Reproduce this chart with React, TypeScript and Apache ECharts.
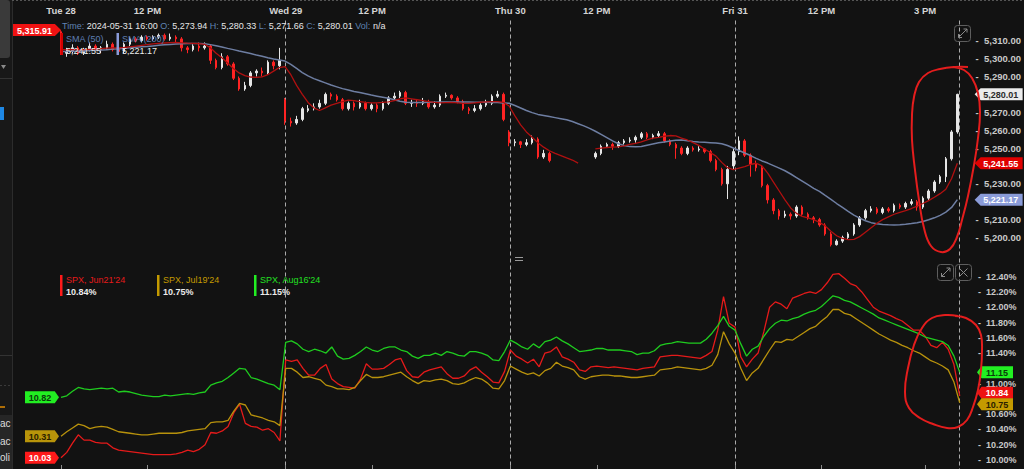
import React, { useEffect, useRef } from 'react';
import * as echarts from 'echarts';

const FONT = '"Liberation Sans", Arial, sans-serif';

// ---------- time axis ----------
const DAYS = ['05-28', '05-29', '05-30', '05-31'];
const SLOTS_PER_DAY = 39; // 10-minute slots 09:30 .. 15:50
const CLOSE_SLOT = '05-31 16:00';
const PAD_SLOTS = ['pad-1', 'pad-2', 'pad-3'];

function buildCategories(): string[] {
  const out: string[] = [];
  DAYS.forEach((d) => {
    for (let k = 0; k < SLOTS_PER_DAY; k++) {
      const m = 9 * 60 + 30 + k * 10;
      out.push(`${d} ${String(Math.floor(m / 60)).padStart(2, '0')}:${String(m % 60).padStart(2, '0')}`);
    }
  });
  out.push(CLOSE_SLOT, ...PAD_SLOTS);
  return out;
}
const CATEGORIES = buildCategories();

const TICK_SLOTS = ['05-28 09:30', '05-28 12:00', '05-29 09:30', '05-29 12:00', '05-30 09:30', '05-30 12:00', '05-31 09:30', '05-31 12:00', '05-31 15:00'];
const TICK_LABELS = ['Tue 28', '12 PM', 'Wed 29', '12 PM', 'Thu 30', '12 PM', 'Fri 31', '12 PM', '3 PM'];
const SESSION_LINES = ['05-29 09:30', '05-30 09:30', '05-31 09:30', '05-31 16:00'];

// ---------- SPX candles [open, close, low, high] ----------
const CANDLES: (number[] | null)[] = [
  [5315, 5303, 5302, 5315.91], [5303, 5304, 5301, 5306], [5304, 5306, 5303, 5308], [5306, 5303, 5302, 5307], [5303, 5305, 5302, 5306], [5305, 5307, 5304, 5309],
  [5307, 5305, 5304, 5308], [5305, 5306, 5303, 5307], [5306, 5308, 5305, 5310], [5308, 5305, 5304, 5309], [5305, 5304, 5302, 5306], [5304, 5308, 5303, 5309],
  [5308, 5311, 5307, 5312], [5311, 5310, 5309, 5312], [5310, 5312, 5309, 5313], [5312, 5311, 5310, 5313], [5311, 5312, 5310, 5313], [5312, 5313, 5311, 5314],
  [5313, 5311, 5310, 5314], [5311, 5312, 5310, 5314], [5312, 5311, 5309, 5313], [5311, 5306, 5304, 5312], [5306, 5305, 5303, 5307], [5305, 5307, 5304, 5308],
  [5307, 5306, 5304, 5309], [5306, 5307, 5305, 5309], [5307, 5299, 5297, 5308], [5299, 5295, 5294, 5300], [5295, 5301, 5294, 5303], [5301, 5297, 5296, 5302],
  [5297, 5289, 5288, 5298], [5289, 5283, 5282, 5290], [5283, 5285, 5282, 5287], [5285, 5292, 5284, 5293], [5292, 5293, 5290, 5294], [5293, 5292, 5290, 5295],
  [5292, 5298, 5291, 5299], [5298, 5296, 5294, 5299], [5296, 5299, 5294, 5306],
  [5277, 5265, 5263, 5278], [5265, 5264, 5262, 5267], [5264, 5266, 5263, 5268], [5266, 5272, 5265, 5273], [5271, 5272, 5270, 5274], [5272, 5273, 5271, 5275],
  [5273, 5275, 5272, 5277], [5275, 5280, 5274, 5281], [5280, 5279, 5277, 5281], [5279, 5277, 5276, 5280], [5277, 5272, 5271, 5278], [5272, 5275, 5271, 5276],
  [5275, 5273, 5271, 5276], [5273, 5275, 5272, 5277], [5275, 5272, 5271, 5276], [5272, 5274, 5271, 5275], [5274, 5272, 5270, 5275], [5272, 5275, 5271, 5276],
  [5275, 5278, 5274, 5279], [5278, 5279, 5277, 5281], [5279, 5281, 5278, 5282], [5281, 5275, 5274, 5282], [5275, 5275.5, 5273, 5277], [5275.5, 5275, 5273, 5277],
  [5275, 5276, 5274, 5278], [5276, 5273, 5272, 5277], [5273, 5274, 5272, 5276], [5274, 5279, 5273, 5280], [5279, 5279.5, 5278, 5281], [5279.5, 5278, 5277, 5280],
  [5278, 5276, 5275, 5279], [5276, 5272, 5271, 5277], [5272, 5271, 5269, 5273], [5271, 5272, 5270, 5274], [5272, 5274, 5271, 5275], [5274, 5275, 5273, 5277],
  [5275, 5279, 5274, 5280], [5279, 5280, 5278, 5282], [5280, 5266, 5265, 5281],
  [5259, 5253, 5251, 5260], [5253, 5253.5, 5251, 5255], [5253.5, 5252, 5250, 5254], [5252, 5253, 5251, 5255], [5253, 5255, 5252, 5257], [5255, 5245, 5244, 5256],
  [5245, 5247, 5244, 5249], [5247, 5243, 5242, 5248], null, null, null, null, null, null, null,
  [5245, 5247, 5244, 5248], [5247, 5251, 5246, 5252], [5251, 5252, 5250, 5253], [5252, 5251, 5249, 5253], [5251, 5253, 5250, 5254], [5253, 5254, 5252, 5255],
  [5254, 5254.5, 5253, 5256], [5254.5, 5256, 5253, 5257], [5256, 5258, 5255, 5259], [5258, 5256, 5255, 5259], [5256, 5257, 5255, 5258], [5257, 5258, 5256, 5259.5],
  [5258, 5254, 5253, 5259], [5254, 5252, 5251, 5255], [5252, 5250, 5244, 5253], [5250, 5247, 5246, 5251], [5247, 5250, 5246, 5251], [5250, 5249, 5248, 5251],
  [5249, 5249.5, 5248, 5251], [5249.5, 5248, 5247, 5250], [5248, 5243, 5242, 5249], [5243, 5238, 5237, 5244], [5238, 5230, 5229, 5239], [5230, 5238, 5221.5, 5240],
  [5240, 5248, 5238, 5250], [5248, 5254, 5246, 5256.5], [5254, 5246, 5245, 5255], [5246, 5241, 5234, 5247], [5241, 5239, 5237, 5243], [5239, 5229, 5228, 5240],
  [5229, 5221, 5219, 5230], [5221, 5215, 5213, 5222], [5215, 5212, 5210, 5216], [5212, 5213, 5211, 5215], [5213, 5212, 5210, 5214], [5212, 5217, 5211, 5218],
  [5217, 5213, 5212, 5218], [5213, 5211, 5210, 5214], [5211, 5210, 5208, 5212], [5210, 5207, 5206, 5211], [5207, 5202, 5201, 5208], [5202, 5196, 5195, 5203],
  [5196, 5198, 5195.5, 5199], [5198, 5200, 5197, 5201], [5200, 5202, 5199, 5203], [5202, 5207, 5201, 5208], [5207, 5211, 5206, 5212], [5211, 5215, 5210, 5216],
  [5215, 5216, 5214, 5217.5], [5216, 5214, 5213, 5217], [5214, 5216, 5213, 5217], [5216, 5215, 5214, 5217], [5215, 5218, 5214, 5219], [5218, 5217, 5216, 5219],
  [5217, 5219, 5216, 5220], [5219, 5220, 5218, 5221.5], [5220, 5217, 5215, 5221], [5217, 5222, 5216, 5223], [5222, 5226, 5221, 5227], [5226, 5231, 5225, 5232],
  [5231, 5234, 5230, 5235], [5234, 5244, 5231, 5245], [5244, 5259, 5243, 5260], [5259, 5280.01, 5258, 5280.33],
];

const SMA50: (number | null)[] = [
  5305, 5305, 5305, 5305, 5305, 5305.2, 5305.4, 5305.6, 5305.8, 5306,
  5306, 5306.2, 5306.6, 5307, 5307.4, 5307.8, 5308.2, 5308.5, 5308.7, 5308.9,
  5309, 5308.8, 5308.6, 5308.5, 5308.4, 5308, 5306, 5303, 5300.5, 5297.5,
  5294.5, 5292, 5290.5, 5289.7, 5289.5, 5289.8, 5291, 5293, 5295, 5295.5,
  5291, 5285, 5280, 5275.5, 5272.5, 5271, 5272.5, 5274, 5275, 5276,
  5276.8, 5276.5, 5276, 5275.5, 5275.2, 5275.2, 5275.5, 5275.8, 5276.5, 5277.5,
  5278, 5277.5, 5277, 5276.5, 5276, 5275.5, 5275.3, 5275.4, 5275.5, 5275.3,
  5275, 5275, 5275.3, 5275.6, 5275.8, 5276, 5276, 5275.5, 5273.5, 5268,
  5263, 5259, 5256, 5253, 5250.5, 5248.5, 5247, 5245.8, 5244.5, 5243.3,
  5241.6, null, null, 5249.5, 5250, 5250.3, 5250.5, 5250.6, 5251.2, 5252,
  5252.6, 5253.5, 5254.5, 5255.5, 5256, 5256.6, 5257, 5256.8, 5255.5, 5254.5,
  5253, 5251.5, 5249.5, 5247.5, 5245.5, 5242, 5239, 5238, 5238.8, 5239.6,
  5240.8, 5241.5, 5240, 5236, 5231, 5226, 5221, 5216.5, 5213.5, 5211.8,
  5211, 5210, 5208.5, 5206.5, 5203.5, 5201, 5199.5, 5198.8, 5199, 5200.5,
  5203, 5205.5, 5208, 5210, 5211.5, 5213, 5214, 5215, 5216.2, 5217.5,
  5219, 5220.6, 5222.5, 5224.5, 5227, 5233, 5241.55,
];

const SMA200: number[] = [
  5304, 5304, 5304.1, 5304.2, 5304.3, 5304.5, 5304.7, 5304.8, 5305, 5305.3,
  5305.5, 5305.8, 5306.1, 5306.4, 5306.6, 5306.8, 5307.1, 5307.4, 5307.7, 5307.9,
  5308.1, 5308.3, 5308.4, 5308.5, 5308.5, 5308.3, 5307.8, 5307.2, 5306.5, 5305.7,
  5305, 5304.2, 5303.5, 5302.8, 5302, 5301.3, 5300.5, 5299.8, 5299.2, 5298.6,
  5296.8, 5294.5, 5292.2, 5290.3, 5288.8, 5287.6, 5286.4, 5285.2, 5284.2, 5283.2,
  5282.4, 5281.6, 5281, 5280.3, 5279.6, 5279, 5278.4, 5277.8, 5277, 5276.2,
  5275.6, 5275.4, 5275.4, 5275.5, 5275.6, 5275.6, 5275.7, 5275.7, 5275.7, 5275.7,
  5275.7, 5275.7, 5275.6, 5275.6, 5275.6, 5275.5, 5275.4, 5275.2, 5275, 5273.8,
  5272.4, 5271, 5269.8, 5268.8, 5268.2, 5267.6, 5267, 5266.4, 5265.8, 5264.8,
  5263.6, 5262.4, 5261, 5259.4, 5257.6, 5255.8, 5254, 5252.4, 5251.4, 5250.8,
  5250.7, 5250.9, 5251.6, 5252.3, 5252.9, 5253.4, 5253.9, 5254.4, 5254.5, 5254.1,
  5253.7, 5253.4, 5253.2, 5253, 5252.8, 5252.4, 5251.4, 5250, 5248.6, 5247.2,
  5245.8, 5244.2, 5242.8, 5241.6, 5240.2, 5238.8, 5237.3, 5235.5, 5233.5, 5231.5,
  5229.5, 5227.5, 5225.8, 5223.5, 5221.3, 5219, 5216.8, 5214.6, 5212.5, 5210.8,
  5209.4, 5208.3, 5207.7, 5207.3, 5207.1, 5207, 5207.1, 5207.4, 5207.8, 5208.3,
  5209, 5209.9, 5211, 5212.4, 5214.2, 5216.8, 5221.17,
];

// ---------- implied volatility (%) ----------
const IV_JUN21: number[] = [
  10.03, 10.10, 10.22, 10.33, 10.26, 10.26, 10.23, 10.22, 10.22, 10.16,
  10.13, 10.12, 10.11, 10.10, 10.09, 10.08, 10.07, 10.07, 10.07, 10.07,
  10.08, 10.10, 10.13, 10.11, 10.14, 10.20, 10.36, 10.35, 10.38, 10.44,
  10.62, 10.73, 10.48, 10.44, 10.43, 10.39, 10.41, 10.36, 10.25, 11.31,
  11.29, 11.31, 11.20, 11.11, 11.11, 11.20, 11.25, 11.06, 11.00, 10.96,
  10.95, 10.94, 11.06, 11.26, 11.19, 11.19, 11.20, 11.25, 11.31, 11.33,
  11.17, 11.09, 11.08, 11.15, 11.18, 11.20, 11.22, 11.13, 11.07, 11.07,
  11.10, 11.18, 11.22, 11.15, 11.09, 11.02, 11.01, 11.16, 11.44, 11.36,
  11.32, 11.27, 11.32, 11.22, 11.40, 11.42, 11.48, 11.35, 11.32, 11.28,
  11.18, 11.16, 11.22, 11.23, 11.22, 11.21, 11.22, 11.21, 11.20, 11.19,
  11.18, 11.20, 11.21, 11.22, 11.35, 11.36, 11.37, 11.37, 11.36, 11.35,
  11.34, 11.33, 11.37, 11.42, 11.70, 12.14, 11.79, 11.74, 11.35, 11.22,
  11.32, 11.40, 11.68, 12.00, 12.07, 12.04, 11.98, 12.12, 12.15, 12.18,
  12.20, 12.18, 12.23, 12.32, 12.43, 12.44, 12.38, 12.31, 12.28, 12.20,
  12.10, 12.00, 11.95, 11.92, 11.89, 11.85, 11.82, 11.76, 11.70, 11.70,
  11.62, 11.50, 11.47, 11.54, 11.45, 11.25, 10.84,
];

const IV_JUL19: number[] = [
  10.31, 10.37, 10.42, 10.47, 10.45, 10.41, 10.43, 10.44, 10.43, 10.40,
  10.37, 10.36, 10.35, 10.34, 10.33, 10.33, 10.34, 10.35, 10.35, 10.35,
  10.35, 10.36, 10.38, 10.39, 10.40, 10.41, 10.49, 10.50, 10.50, 10.52,
  10.64, 10.74, 10.72, 10.59, 10.57, 10.55, 10.52, 10.50, 10.45, 11.20,
  11.20, 11.15, 11.08, 11.09, 11.07, 11.05, 10.98, 10.96, 10.93, 10.93,
  10.92, 10.95, 11.04, 11.12, 11.08, 11.08, 11.09, 11.11, 11.13, 11.15,
  11.09, 11.04, 11.00, 11.04, 11.03, 11.05, 11.06, 11.04, 11.00, 10.99,
  11.01, 11.05, 11.08, 11.06, 11.01, 10.94, 10.93, 11.04, 11.23, 11.19,
  11.15, 11.12, 11.14, 11.10, 11.17, 11.20, 11.28, 11.23, 11.21, 11.18,
  11.09, 11.06, 11.09, 11.10, 11.11, 11.11, 11.10, 11.10, 11.09, 11.08,
  11.08, 11.09, 11.10, 11.11, 11.18, 11.19, 11.20, 11.22, 11.21, 11.20,
  11.19, 11.18, 11.20, 11.24, 11.38, 11.68, 11.52, 11.40, 11.20, 11.04,
  11.14, 11.20, 11.32, 11.44, 11.55, 11.54, 11.58, 11.57, 11.62, 11.67,
  11.72, 11.75, 11.82, 11.88, 11.97, 11.97, 11.92, 11.90, 11.85, 11.80,
  11.75, 11.70, 11.65, 11.61, 11.57, 11.54, 11.50, 11.47, 11.43, 11.40,
  11.35, 11.30, 11.27, 11.23, 11.18, 11.02, 10.75,
];

const IV_AUG16: number[] = [
  10.82, 10.84, 10.90, 10.95, 10.93, 10.92, 10.93, 10.94, 10.93, 10.94,
  10.89, 10.90, 10.89, 10.87, 10.85, 10.84, 10.83, 10.83, 10.85, 10.84,
  10.85, 10.86, 10.87, 10.86, 10.88, 10.89, 10.98, 11.01, 11.03, 11.08,
  11.14, 11.20, 11.19, 11.08, 11.06, 11.03, 11.00, 10.98, 10.92, 11.54,
  11.56, 11.52, 11.45, 11.42, 11.45, 11.43, 11.40, 11.48, 11.36, 11.32,
  11.33, 11.37, 11.42, 11.48, 11.44, 11.42, 11.46, 11.48, 11.48, 11.44,
  11.42, 11.36, 11.33, 11.37, 11.37, 11.40, 11.37, 11.42, 11.40, 11.37,
  11.36, 11.42, 11.42, 11.40, 11.37, 11.31, 11.30, 11.42, 11.57, 11.53,
  11.48, 11.45, 11.52, 11.47, 11.55, 11.57, 11.61, 11.56, 11.52, 11.47,
  11.42, 11.43, 11.44, 11.46, 11.46, 11.44, 11.44, 11.44, 11.43, 11.42,
  11.38, 11.40, 11.40, 11.43, 11.50, 11.52, 11.53, 11.55, 11.54, 11.53,
  11.53, 11.53, 11.58, 11.66, 11.76, 11.88, 11.75, 11.70, 11.52, 11.36,
  11.45, 11.49, 11.62, 11.72, 11.79, 11.83, 11.82, 11.85, 11.87, 11.91,
  11.94, 11.96, 12.01, 12.08, 12.15, 12.13, 12.09, 12.07, 12.03, 11.99,
  11.95, 11.91, 11.86, 11.83, 11.80, 11.77, 11.74, 11.71, 11.68, 11.65,
  11.61, 11.59, 11.57, 11.55, 11.50, 11.36, 11.15,
];

// header readout of the last bar
const LAST_BAR_TIME = '2024-05-31 16:00';
const LAST_BAR_OHLC = { O: 5273.94, H: 5280.33, L: 5271.66, C: 5280.01 };

// ---------- helpers ----------
const fmt2 = (v: number) => v.toLocaleString('en-US', { minimumFractionDigits: 2, maximumFractionDigits: 2 });
const lastOf = <T,>(a: T[]) => a[a.length - 1];
const LAST_IDX = CANDLES.length - 1;

const RIGHT_TAG = 'path://M0,6L6,0L48,0L48,12L6,12Z';
const LEFT_TAG = 'path://M0,0L42,0L48,6L42,12L0,12Z';

function tag(idx: number, value: number, text: string, side: 'left' | 'right', w: number, gap: number, bg: string, fg: string, dy = 0) {
  const dx = side === 'right' ? gap + w / 2 : -(gap + w / 2);
  return {
    coord: [CATEGORIES[idx], value],
    value,
    symbol: side === 'right' ? RIGHT_TAG : LEFT_TAG,
    symbolKeepAspect: false,
    symbolSize: [w, 12],
    symbolOffset: [dx, dy],
    itemStyle: { color: bg },
    label: {
      show: true,
      position: 'inside',
      offset: [side === 'right' ? 2 : -2, 0.5],
      formatter: () => text,
      color: fg,
      fontSize: 9,
      fontWeight: 'bold',
      fontFamily: FONT,
    },
  };
}

const markPt = (data: any[]) => ({ silent: true, animation: false, data });

function buildOption(): any {
  const candleData = CANDLES.map((c) => (c ? c : ['-', '-', '-', '-']));
  const lastClose = (CANDLES[LAST_IDX] as number[])[1];
  const firstHigh = (CANDLES[0] as number[])[3];
  const sma50Last = lastOf(SMA50) as number;
  const sma200Last = lastOf(SMA200);
  const ivFmt = (v: number) => v.toFixed(2);

  // axis labels that sit under a value tag are covered by it (as in the source screen)
  const priceTags = [lastClose, sma50Last, sma200Last];
  const ivTags = [lastOf(IV_JUN21), lastOf(IV_JUL19), lastOf(IV_AUG16)];
  const underTag = (v: number, tags: number[], tol: number) => tags.some((t) => Math.abs(t - v) < tol);

  const yLabel = (extra: any) => ({
    margin: 1,
    color: '#c9c9c9',
    fontWeight: 'bold',
    fontFamily: FONT,
    ...extra,
  });

  const hiddenX = (gridIndex: number) => ({ type: 'category', gridIndex, data: CATEGORIES, boundaryGap: false, show: false });

  const loop = (points: number[][]) => ({
    type: 'polyline',
    z: 200,
    silent: true,
    shape: { points, smooth: 0.45 },
    style: { stroke: '#e41d1d', lineWidth: 2, fill: 'none' },
  });

  const txt = (x: number, y: number, text: string, fill: string, size = 9, extra: any = {}) => ({
    type: 'text', x, y, z: 150, silent: true,
    style: { text, fill, fontSize: size, fontFamily: FONT, verticalAlign: 'middle', ...extra },
  });
  const rect = (x: number, y: number, width: number, height: number, fill: string, extra: any = {}) => ({
    type: 'rect', z: 150, silent: true, shape: { x, y, width, height, ...extra }, style: { fill },
  });
  const seg = (x1: number, y1: number, x2: number, y2: number, stroke: string, extra: any = {}) => ({
    type: 'line', z: 150, silent: true, shape: { x1, y1, x2, y2 }, style: { stroke, lineWidth: 1, ...extra },
  });
  const iconBox = (x: number, y: number) => ({
    type: 'rect', z: 150, silent: true, shape: { x, y, width: 16, height: 16, r: 3 }, style: { fill: 'rgba(0,0,0,0)', stroke: '#5e5e5e', lineWidth: 1 },
  });

  const header = `{k|Time:} {v|${LAST_BAR_TIME}} {k|O:} {v|${fmt2(LAST_BAR_OHLC.O)}} {k|H:} {v|${fmt2(LAST_BAR_OHLC.H)}} {k|L:} {v|${fmt2(LAST_BAR_OHLC.L)}} {k|C:} {v|${fmt2(LAST_BAR_OHLC.C)}} {k|Vol:} {v|n/a}`;

  return {
    animation: false,
    backgroundColor: '#121212',
    textStyle: { fontFamily: FONT },
    grid: [
      { left: 61, right: 47, top: 22.8, height: 232.6 },
      { left: 61, right: 47, top: 261.4, bottom: 9 },
      { left: 61, right: 47, top: 20.5, bottom: 0 },
    ],
    xAxis: [
      hiddenX(0),
      hiddenX(1),
      {
        type: 'category',
        gridIndex: 2,
        data: CATEGORIES,
        boundaryGap: false,
        position: 'top',
        axisLine: { show: true, lineStyle: { color: '#8d8d8d', width: 1 } },
        axisTick: { show: true, length: 4, inside: false, interval: (_i: number, v: string) => TICK_SLOTS.includes(v), lineStyle: { color: '#8d8d8d' } },
        axisLabel: {
          interval: (_i: number, v: string) => TICK_SLOTS.includes(v),
          formatter: (v: string) => { const k = TICK_SLOTS.indexOf(v); return k >= 0 ? TICK_LABELS[k] : ''; },
          color: '#d4d4d4', fontSize: 9.5, fontWeight: 'bold', fontFamily: FONT, margin: 5,
        },
        splitLine: { show: true, interval: (_i: number, v: string) => SESSION_LINES.includes(v), lineStyle: { color: '#ababab', type: [4, 3], width: 1 } },
      },
    ],
    yAxis: [
      {
        gridIndex: 0, type: 'value', position: 'right', min: 5190, max: 5320, interval: 10,
        axisLine: { show: false }, axisTick: { show: false }, splitLine: { show: false },
        axisLabel: yLabel({
          fontSize: 9.5,
          formatter: (v: number) => (v < 5199 || v > 5311 || underTag(v, priceTags, 5) ? '' : '-  ' + fmt2(v)),
        }),
      },
      {
        gridIndex: 1, type: 'value', position: 'right', min: 10, max: 12.6, interval: 0.2,
        axisLine: { show: false }, axisTick: { show: false }, splitLine: { show: false },
        axisLabel: yLabel({
          fontSize: 9,
          formatter: (v: number) => (v > 12.41 || underTag(v, ivTags, 0.1) ? '' : '-  ' + v.toFixed(2) + '%'),
        }),
      },
      { gridIndex: 2, type: 'value', show: false, min: 0, max: 1 },
    ],
    series: [
      {
        type: 'line', name: 'SMA (200)', xAxisIndex: 0, yAxisIndex: 0, data: SMA200, symbol: 'none', silent: true,
        lineStyle: { color: '#6e7ea2', width: 1.5 },
        markPoint: markPt([tag(LAST_IDX, sma200Last, fmt2(sma200Last), 'right', 48, 17.3, '#8a9bd8', '#ffffff')]),
      },
      {
        type: 'line', name: 'SMA (50)', xAxisIndex: 0, yAxisIndex: 0, data: SMA50, symbol: 'none', silent: true,
        lineStyle: { color: '#b01010', width: 1.3 },
        markPoint: markPt([tag(LAST_IDX, sma50Last, fmt2(sma50Last), 'right', 48, 17.3, '#e00000', '#ffffff')]),
      },
      {
        type: 'candlestick', name: 'SPX', xAxisIndex: 0, yAxisIndex: 0, data: candleData, barWidth: 2, silent: true,
        itemStyle: { color: '#e6e6e6', color0: '#ff2323', borderColor: '#e6e6e6', borderColor0: '#ff2323', borderWidth: 1 },
        markPoint: markPt([
          tag(LAST_IDX, lastClose, fmt2(lastClose), 'right', 48, 17.3, '#ececec', '#2b2b2b'),
          tag(0, firstHigh, fmt2(firstHigh), 'left', 49, 0, '#f01212', '#ffffff'),
        ]),
      },
      {
        type: 'line', name: "SPX, Jun21'24", xAxisIndex: 1, yAxisIndex: 1, data: IV_JUN21, symbol: 'none', silent: true,
        lineStyle: { color: '#e51a1a', width: 1.3 },
        markPoint: markPt([
          tag(LAST_IDX, lastOf(IV_JUN21), ivFmt(lastOf(IV_JUN21)), 'right', 36, 17.3, '#ee1111', '#ffffff', -3),
          tag(0, IV_JUN21[0], ivFmt(IV_JUN21[0]), 'left', 34, 2, '#ff1a1a', '#ffffff'),
        ]),
      },
      {
        type: 'line', name: "SPX, Jul19'24", xAxisIndex: 1, yAxisIndex: 1, data: IV_JUL19, symbol: 'none', silent: true,
        lineStyle: { color: '#b8920c', width: 1.3 },
        markPoint: markPt([
          tag(LAST_IDX, lastOf(IV_JUL19), ivFmt(lastOf(IV_JUL19)), 'right', 36, 17.3, '#c49a00', '#2a2100', 1.5),
          tag(0, IV_JUL19[0], ivFmt(IV_JUL19[0]), 'left', 34, 2, '#b8940a', '#2a2100'),
        ]),
      },
      {
        type: 'line', name: "SPX, Aug16'24", xAxisIndex: 1, yAxisIndex: 1, data: IV_AUG16, symbol: 'none', silent: true,
        lineStyle: { color: '#1fcc1f', width: 1.3 },
        markPoint: markPt([
          tag(LAST_IDX, lastOf(IV_AUG16), ivFmt(lastOf(IV_AUG16)), 'right', 36, 17.3, '#22f022', '#0b3a0b'),
          tag(0, IV_AUG16[0], ivFmt(IV_AUG16[0]), 'left', 34, 2, '#22ee22', '#0b3a0b'),
        ]),
      },
    ],
    graphic: {
      elements: [
        // left side panel remnants
        rect(0, 0, 12, 469, '#181818'),
        rect(0, 0, 10, 58, '#3a3a3a', { r: [0, 3, 3, 0] }),
        { type: 'polygon', z: 150, silent: true, shape: { points: [[1, 65], [6, 65], [3.5, 69]] }, style: { fill: '#8a8a8a' } },
        seg(0, 78.5, 12, 78.5, '#333333'),
        rect(0, 107, 4, 13, '#1e88e5'),
        seg(0, 355.5, 12, 355.5, '#333333'),
        seg(0, 385.5, 12, 385.5, '#3a3a3a', { lineDash: [2, 2] }),
        seg(0, 407, 5, 407, '#e08a00', { lineWidth: 1.5 }),
        rect(0, 415, 12, 54, '#262626'),
        txt(0, 423, 'ac', '#dddddd', 10),
        txt(0, 441, 'ac', '#dddddd', 10),
        txt(0, 457, 'oli', '#dddddd', 10),
        seg(12.5, 0, 12.5, 469, '#2c2c2c'),
        // top dotted border
        seg(12, 0.5, 1024, 0.5, '#555555', { lineDash: [2, 2] }),
        // header readout
        {
          type: 'text', x: 62, y: 26, z: 150, silent: true,
          style: {
            text: header, fontSize: 9, fontFamily: FONT, verticalAlign: 'middle',
            rich: { k: { fill: '#5f82b3', fontSize: 9, fontFamily: FONT }, v: { fill: '#e6e6e6', fontSize: 9, fontFamily: FONT } },
          },
        },
        // price legend
        rect(60.5, 33, 2.5, 22, '#d40000'),
        txt(66, 38.5, 'SMA (50)', '#5f7fb3'),
        txt(66, 50.5, fmt2(sma50Last), '#ececec'),
        rect(116.5, 33, 2.5, 22, '#8a9bd8'),
        txt(122, 38.5, 'SMA (200)', '#5f7fb3'),
        txt(122, 50.5, fmt2(sma200Last), '#ececec'),
        // IV legend
        rect(60, 275, 2.5, 21, '#ff1a1a'),
        txt(66, 279.5, "SPX, Jun21'24", '#e51a1a'),
        txt(66, 292, ivFmt(lastOf(IV_JUN21)) + '%', '#ececec', 9, { fontWeight: 'bold' }),
        rect(157, 275, 2.5, 21, '#c49a00'),
        txt(163, 279.5, "SPX, Jul19'24", '#c49a00'),
        txt(163, 292, ivFmt(lastOf(IV_JUL19)) + '%', '#ececec', 9, { fontWeight: 'bold' }),
        rect(254, 275, 2.5, 21, '#22ee22'),
        txt(260, 279.5, "SPX, Aug16'24", '#22e022'),
        txt(260, 292, ivFmt(lastOf(IV_AUG16)) + '%', '#ececec', 9, { fontWeight: 'bold' }),
        // pane divider handle
        seg(515, 257.5, 523, 257.5, '#9a9a9a'),
        seg(515, 260.5, 523, 260.5, '#9a9a9a'),
        // pane icons
        iconBox(954.5, 25.5),
        seg(958.5, 37.5, 967, 29, '#8a8a8a'),
        seg(963.5, 29, 967, 29, '#8a8a8a'), seg(967, 29, 967, 32.5, '#8a8a8a'),
        seg(958.5, 34, 958.5, 37.5, '#8a8a8a'), seg(958.5, 37.5, 962, 37.5, '#8a8a8a'),
        iconBox(937.5, 264.5),
        seg(941.5, 276.5, 950, 268, '#8a8a8a'),
        seg(946.5, 268, 950, 268, '#8a8a8a'), seg(950, 268, 950, 271.5, '#8a8a8a'),
        seg(941.5, 273, 941.5, 276.5, '#8a8a8a'), seg(941.5, 276.5, 945, 276.5, '#8a8a8a'),
        iconBox(955.5, 264.5),
        seg(959.5, 268.5, 967.5, 276.5, '#8a8a8a'),
        seg(967.5, 268.5, 959.5, 276.5, '#8a8a8a'),
        // hand-drawn annotation loops
        loop([[968, 67], [955, 67], [940, 69], [928, 73], [919, 82], [914, 97], [912, 115], [912, 140], [915, 170], [919, 200], [924, 228], [931, 246], [941, 252], [950, 249], [957, 237], [962, 220], [968, 196], [974, 165], [978, 138], [980, 112], [978, 93], [972, 78], [964, 70], [953, 67]]),
        loop([[958, 316], [945, 315], [932, 318], [922, 328], [914, 345], [908, 368], [905, 392], [909, 408], [920, 418], [933, 424], [947, 428], [958, 427], [967, 420], [973, 407], [978, 390], [981, 370], [982, 350], [981, 335], [976, 325], [966, 318], [955, 316]]),
      ],
    },
  };
}

export default function App() {
  const ref = useRef<HTMLDivElement>(null);
  useEffect(() => {
    if (!ref.current) return;
    const chart = echarts.init(ref.current, undefined, { renderer: 'svg' });
    chart.setOption(buildOption());
    return () => chart.dispose();
  }, []);
  return <div ref={ref} style={{ position: 'fixed', left: 0, top: 0, width: 1024, height: 469 }} />;
}
